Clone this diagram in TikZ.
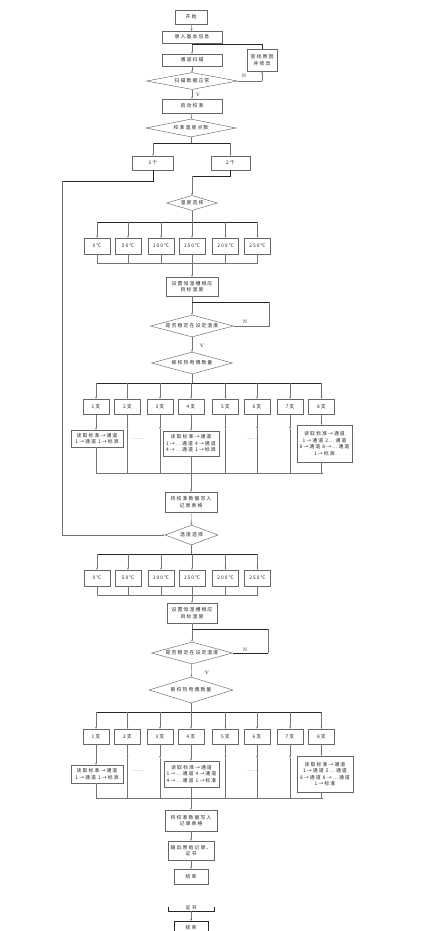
\documentclass[tikz,border=0pt]{standalone}
\usepackage{fontspec}
\newfontfamily\cjk[LetterSpace=22]{Noto Sans CJK SC}
\usetikzlibrary{shapes.geometric,arrows.meta}
\begin{document}
\begin{tikzpicture}[x=1pt,y=-1pt,
  every node/.style={font=\cjk\fontsize{4.9}{6.5}\selectfont, inner sep=0pt, align=center, text=black!85},
  box/.style={rectangle, draw=black!60, line width=0.45pt, fill=white,
    append after command={[draw=black!85,line width=1pt] (\tikzlastnode.south west) -- (\tikzlastnode.south east)}},
  dia/.style={diamond, aspect=#1, draw=black!60, line width=0.45pt, fill=white},
  ln/.style={draw=black!55, line width=0.45pt},
  arr/.style={draw=black!55, line width=0.45pt, -{Stealth[length=2.2pt,width=1.8pt]}},
  thk/.style={draw=black!85, line width=1pt},
  lab/.style={font=\fontsize{4.8}{5}\selectfont}
]
\useasboundingbox[fill=white] (0,0) rectangle (427,931);

% ---------- top ----------
\node[box,minimum width=32,minimum height=14] (start) at (191,17) {开始};
\node[box,minimum width=60,minimum height=12] (info) at (192,37) {录入基本信息};
\node[box,minimum width=60,minimum height=12] (scan) at (192,60) {通道扫描};
\node[box,minimum width=30,minimum height=22] (fix) at (262,60) {查找原因\\并修改};
\node[dia=5.35,minimum width=91,minimum height=17] (d1) at (192,81) {扫描数据正常};
\node[box,minimum width=60,minimum height=14] (calib) at (192,106) {启动校准};
\node[dia=5,minimum width=90,minimum height=18] (d2) at (191,128) {校准温度点数};
\node[box,minimum width=41,minimum height=14] (one) at (153,163) {1个};
\node[box,minimum width=39,minimum height=14] (two) at (230.5,163) {2个};
\node[lab] (n1) at (244,75.5) {N};
\node[lab] (y1) at (198,94.5) {Y};

\draw[arr] (start) -- (info);
\draw[arr] (info) -- (scan);
\coordinate (fb1) at (192,45);
\draw[thk] (fix.north) -- (fix.north |- fb1) -- (fb1);
\draw[arr] (scan) -- (d1);
\coordinate (nr1) at (262,81);
\draw[ln] (d1.east) -- (nr1);
\draw[arr] (nr1) -- (fix.south);
\draw[arr] (d1) -- (calib);
\draw[arr] (calib) -- (d2);
\coordinate (b2) at (191,143);
\coordinate (b2l) at (153,143);
\coordinate (b2r) at (230.5,143);
\draw[ln] (d2.south) -- (b2);
\draw[thk] (b2l) -- (b2r);
\draw[arr] (b2l) -- (one.north);
\draw[arr] (b2r) -- (two.north);

% ---------- first temperature round ----------
\node[dia=3.4,minimum width=51,minimum height=15] (t1) at (192,203) {温度选择};
\coordinate (o1) at (153,181);
\coordinate (o2) at (62,181);
\coordinate (o3) at (62,535);
\draw[thk] (one.south) -- (o1) -- (o2);
\draw[ln] (o2) -- (o3);
\coordinate (w1) at (230.5,176);
\coordinate (w2) at (192,176);
\draw[thk] (two.south) -- (w1) -- (w2);
\draw[arr] (w2) -- (t1.north);

\coordinate (tb1) at (192,222);
\draw[ln] (t1.south) -- (tb1);
\draw[thk,line width=0.8pt] (97,222) -- (257.5,222);
\draw[ln] (97,263) -- (257.5,263);
\foreach \x/\t [count=\i] in {97/0℃,128/50℃,161/100℃,192/150℃,225.5/200℃,257.5/250℃}{
  \node[box,minimum width=26,minimum height=16] (ta\i) at (\x,246) {\t};
  \coordinate (tau\i) at (\x,222);
  \coordinate (tad\i) at (\x,263);
  \draw[arr] (tau\i) -- (ta\i.north);
  \draw[ln] (ta\i.south) -- (tad\i);
}
\node[box,minimum width=52,minimum height=19] (set1) at (192,286.5) {设置恒温槽相应\\目标温度};
\draw[arr] (tad4) -- (set1.north);
\node[dia=3.77,minimum width=83,minimum height=22] (s1) at (192,326) {是否稳定在设定温度};
\draw[arr] (set1) -- (s1);
\coordinate (f1a) at (269,326);
\coordinate (f1b) at (269,302);
\coordinate (f1c) at (192,302);
\draw[ln] (s1.east) -- (f1a) -- (f1b);
\draw[thk] (f1b) -- (f1c);
\node[lab] (n2) at (245,322) {N};
\node[lab] (y2) at (202,345.5) {Y};
\node[dia=3.68,minimum width=81,minimum height=22] (q1) at (192,363) {被校热电偶数量};
\draw[arr] (s1) -- (q1);
\coordinate (qb1) at (192,383);
\draw[ln] (q1.south) -- (qb1);
\draw[thk,line width=0.8pt] (96,383) -- (321.5,383);
\draw[ln] (96,473) -- (323,473);
\foreach \x [count=\i] in {96,127.5,160,191,225.5,257,290,321.5}{
  \node[box,minimum width=26,minimum height=15] (za\i) at (\x,406.5) {\i 支};
  \coordinate (zau\i) at (\x,383);
  \coordinate (zad\i) at (\x,473);
  \draw[arr] (zau\i) -- (za\i.north);
}
\node[box,minimum width=52,minimum height=17] (ra1) at (97,438.5) {读取标准→通道\\1→通道 1→标准};
\node[box,minimum width=56,minimum height=25] (ra4) at (191,443.5) {读取标准→通道\\1→…通道 4→通道\\4→…通道 1→标准};
\node[box,minimum width=55,minimum height=37] (ra8) at (324.5,443.5) {读取标准→通道\\1→通道 2…通道\\8→通道 8→…通道\\1→标准};
\node (da1) at (138,439) {……};
\node (da2) at (253,439) {……};
\draw[arr] (za1.south) -- (za1.south |- ra1.north);
\draw[arr] (za4.south) -- (za4.south |- ra4.north);
\draw[arr] (za8.south) -- (za8.south |- ra8.north);
\draw[ln] (za1.south |- ra1.south) -- (zad1);
\draw[ln] (za4.south |- ra4.south) -- (zad4);
\draw[ln] (za8.south |- ra8.south) -- (zad8);
\foreach \i in {2,3,5,6,7}{
  \draw[arr] (za\i.south) -- (za\i.south |- 0,429);
  \draw[ln] (za\i.south |- 0,429) -- (zad\i);
}
\node[box,minimum width=52,minimum height=20] (wr1) at (191,502) {将校准数据写入\\记录表格};
\draw[arr] (zad4) -- (wr1.north);

% ---------- second temperature round ----------
\node[dia=2.65,minimum width=53,minimum height=20] (t2) at (191.5,535) {温度选择};
\draw[arr] (wr1) -- (t2);
\draw[arr] (o3) -- (t2.west);
\coordinate (tb2) at (191.5,554);
\draw[ln] (t2.south) -- (tb2);
\draw[thk,line width=0.8pt] (97,554) -- (257.5,554);
\draw[ln] (97,595) -- (257.5,595);
\foreach \x/\t [count=\i] in {97/0℃,128/50℃,161/100℃,192/150℃,225.5/200℃,257.5/250℃}{
  \node[box,minimum width=26,minimum height=16] (tb\i) at (\x,578) {\t};
  \coordinate (tbu\i) at (\x,554);
  \coordinate (tbd\i) at (\x,595);
  \draw[arr] (tbu\i) -- (tb\i.north);
  \draw[ln] (tb\i.south) -- (tbd\i);
}
\node[box,minimum width=50,minimum height=20] (set2) at (192,613) {设置恒温槽相应\\目标温度};
\draw[arr] (tbd4) -- (set2.north);
\node[dia=3.68,minimum width=81,minimum height=22] (s2) at (192,653) {是否稳定在设定温度};
\draw[arr] (set2) -- (s2);
\coordinate (f2a) at (268,653);
\coordinate (f2b) at (268,629);
\coordinate (f2c) at (192,629);
\draw[thk] (s2.east) -- (f2a);
\draw[ln] (f2a) -- (f2b);
\draw[thk] (f2b) -- (f2c);
\node[lab] (n3) at (245,649.5) {N};
\node[lab] (y3) at (207,672.5) {Y};
\node[dia=3.23,minimum width=84,minimum height=26] (q2) at (191,690) {被校热电偶数量};
\draw[arr] (s2) -- (q2);
\coordinate (qb2) at (191,712);
\draw[ln] (q2.south) -- (qb2);
\draw[thk,line width=0.8pt] (96,712) -- (321.5,712);
\draw[ln] (96,798) -- (323,798);
\foreach \x [count=\i] in {96,127.5,160,191,225.5,257,290,321.5}{
  \node[box,minimum width=26,minimum height=15] (zb\i) at (\x,736.5) {\i 支};
  \coordinate (zbu\i) at (\x,712);
  \coordinate (zbd\i) at (\x,798);
  \draw[arr] (zbu\i) -- (zb\i.north);
}
\node[box,minimum width=52,minimum height=18] (rb1) at (97,774) {读取标准→通道\\1→通道 1→标准};
\node[box,minimum width=55,minimum height=26] (rb4) at (191.5,774) {读取标准→通道\\1→…通道 4→通道\\4→…通道 1→标准};
\node[box,minimum width=56,minimum height=36] (rb8) at (325,774) {读取标准→通道\\1→通道 2…通道\\8→通道 8→…通道\\1→标准};
\node (db1) at (138,771) {……};
\node (db2) at (253,771) {……};
\draw[arr] (zb1.south) -- (zb1.south |- rb1.north);
\draw[arr] (zb4.south) -- (zb4.south |- rb4.north);
\draw[arr] (zb8.south) -- (zb8.south |- rb8.north);
\draw[ln] (zb1.south |- rb1.south) -- (zbd1);
\draw[ln] (zb4.south |- rb4.south) -- (zbd4);
\draw[ln] (zb8.south |- rb8.south) -- (zbd8);
\foreach \i in {2,3,5,6,7}{
  \draw[arr] (zb\i.south) -- (zb\i.south |- 0,758);
  \draw[ln] (zb\i.south |- 0,758) -- (zbd\i);
}
\node[box,minimum width=52,minimum height=21] (wr2) at (191,820.5) {将校准数据写入\\记录表格};
\draw[arr] (zbd4) -- (wr2.north);
\node[box,minimum width=46,minimum height=19] (out) at (191,850.5) {输出原始记录、\\证书};
\node[box,minimum width=34,minimum height=15] (fin) at (191,876.5) {结束};
\draw[arr] (wr2) -- (out);
\draw[arr] (out) -- (fin);

% ---------- stray fragment at the bottom ----------
\node (frag1) at (191,907.5) {证书};
\draw[thk] (168,906.5) -- (168,911) -- (214,911) -- (214,906.5);
\node (frag2) at (191,928) {结束};
\coordinate (fa) at (191,911);
\draw[thk] (174,936) -- (174,921) -- (208,921) -- (208,936);
\draw[arr] (fa) -- (191,921);
\end{tikzpicture}
\end{document}
